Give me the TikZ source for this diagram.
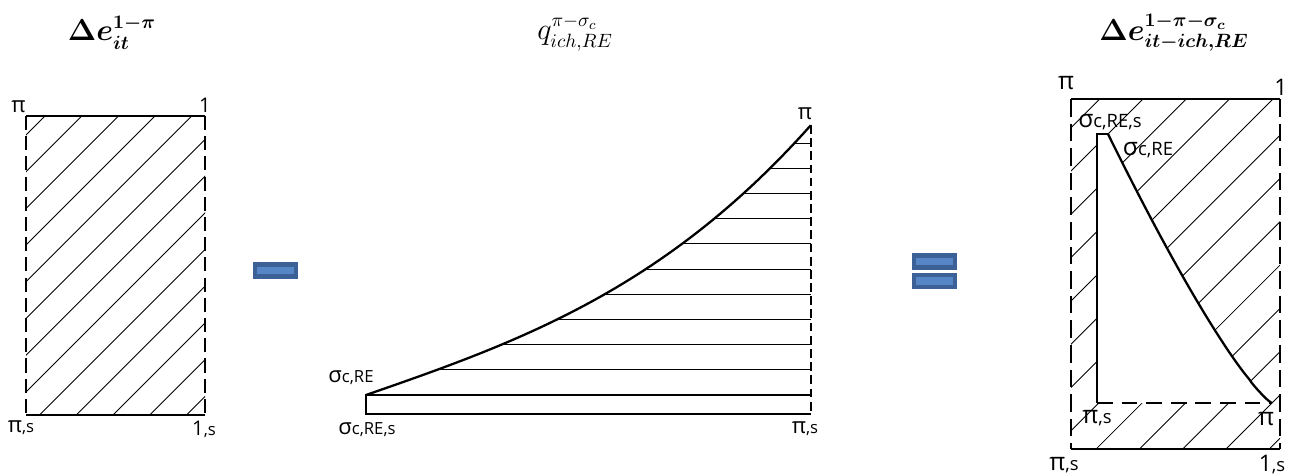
\documentclass[tikz,border=0pt]{standalone}
\usepackage{amsmath,amssymb}
\usepackage{fontspec}
\usepackage{xcolor}
\usetikzlibrary{positioning}
\newfontfamily\lblfont{Open Sans}
\definecolor{opdark}{HTML}{3B6197}
\definecolor{oplight}{HTML}{5686C5}
\newcommand{\sgm}{{\fontsize{12.5}{12}\selectfont σ}}
\newcommand{\bigsgm}{{\fontsize{14}{14}\selectfont σ}}
\newcommand{\gpi}{{\fontsize{12.5}{12}\selectfont π}}
\newcommand{\biggpi}{{\fontsize{14}{14}\selectfont π}}
\newcommand{\gone}{{\fontsize{11.5}{12}\selectfont 1}}
\newcommand{\biggone}{{\fontsize{13}{14}\selectfont 1}}

\begin{document}
\begin{tikzpicture}[x=0.02cm, y=-0.02cm,
      lbl/.style={font=\lblfont\fontsize{9.5}{10}\selectfont, inner sep=0pt},
      biglbl/.style={font=\lblfont\fontsize{10.5}{11}\selectfont, inner sep=0pt},
      ttlfont/.style={font=\fontsize{16}{19}\selectfont, inner sep=0pt},
      hatch/.style={line width=0.5pt},
      side/.style={line width=0.6pt, dash pattern=on 8pt off 3.5pt},
      rim/.style={line width=1.3pt},
      opbox/.style={draw=opdark, line width=2.8pt, fill=oplight, inner sep=0pt,
        minimum width=0.82cm, minimum height=0.24cm}]
    \useasboundingbox (0,0) rectangle (1290,476);

    % titles
    \node[ttlfont] (t1) at (112,33) {$\boldsymbol{\Delta e_{it}^{1-\pi}}$};
    \node[ttlfont] (t2) at (575,33) {$q_{ich,RE}^{\pi-\sigma_c}$};
    \node[ttlfont] (t3) at (1174,33) {$\boldsymbol{\Delta e_{it-ich,RE}^{1-\pi-\sigma_c}}$};

    % first box
    \begin{scope}
      \clip (26,116) rectangle (205,415);
      \foreach \k in {0,...,12}
        \draw[hatch] ({161+36.7*\k-415},415) -- ({161+36.7*\k-116},116);
    \end{scope}
    \draw[rim] (26,116) -- (205,116);
    \draw[line width=0.9pt] (26,415) -- (205,415);
    \draw[side] (26,116) -- (26,415);
    \draw[side] (205,116) -- (205,415);
    \node[lbl] (a1) at (18.5,107) {\gpi};
    \node[lbl] (a2) at (205,105) {\gone};
    \node[lbl] (a3) at (21,428) {\gpi,s};
    \node[lbl] (a4) at (204,429) {\gone,s};

    % minus
    \node[opbox] (minus) at (275.5,270.5) {};

    % second box
    \begin{scope}
      \clip plot[domain=0:1, samples=60] ({366+445*\x}, {395-270*(0.573*\x+0.427*\x^3)})
        -- (811,395) -- cycle;
      \foreach \k in {1,...,10}
        \draw[hatch] (366,{395-25.2*\k}) -- (811,{395-25.2*\k});
    \end{scope}
    \draw[rim] plot[domain=0:1, samples=60] ({366+445*\x}, {395-270*(0.573*\x+0.427*\x^3)});
    \draw[line width=0.7pt] (811,395) -- (366,395) -- (366,414) -- (811,414);
    \draw[side, dash pattern=on 5pt off 2.5pt] (811,125) -- (811,414);
    \node[lbl] (b1) at (805,114) {\gpi};
    \node[lbl] (b2) at (351,378) {\sgm c,RE};
    \node[lbl] (b3) at (367,430) {\sgm c,RE,s};
    \node[lbl] (b4) at (805,429) {\gpi,s};

    % equals
    \node[opbox] (eqtop) at (934.5,261.5) {};
    \node[opbox] (eqbot) at (934.5,281) {};

    % third box
    \begin{scope}
      \clip (1071,99) rectangle (1280,449);
      \foreach \k in {0,...,12}
        \draw[hatch] ({1198.7+43.3*\k-449},449) -- ({1198.7+43.3*\k-99},99);
    \end{scope}
    \fill[white] (1097,403) -- (1097,134) -- (1108,134)
      -- plot[domain=0:0.995, samples=60] ({1108+164*\x}, {134+269*(1-(1-\x)^1.24)})
      -- (1272,403) -- cycle;
    \draw[rim] (1071,99) -- (1280,99);
    \draw[line width=1pt] (1071,449) -- (1280,449);
    \draw[side, dash pattern=on 10pt off 4pt] (1071,99) -- (1071,449);
    \draw[side, dash pattern=on 10pt off 4pt] (1280,99) -- (1280,449);
    \draw[line width=0.8pt] (1097,403) -- (1097,134) -- (1108,134);
    \draw[rim] plot[domain=0:0.995, samples=60] ({1108+164*\x}, {134+269*(1-(1-\x)^1.24)})
      -- (1272,403);
    \draw[line width=0.8pt, dash pattern=on 9pt off 5pt] (1097,403) -- (1272,403);
    \node[biglbl] (c1) at (1066,83) {\biggpi};
    \node[biglbl] (c2) at (1281,87) {\biggone};
    \node[biglbl] (c3) at (1110,122) {\bigsgm c,RE,s};
    \node[biglbl] (c4) at (1148,150) {\bigsgm c,RE};
    \node[biglbl] (c5) at (1097,418) {\biggpi,s};
    \node[biglbl] (c6) at (1266,419) {\biggpi};
    \node[biglbl] (c7) at (1064,465) {\biggpi,s};
    \node[biglbl] (c8) at (1272,465) {\biggone,s};
  \end{tikzpicture}
\end{document}
